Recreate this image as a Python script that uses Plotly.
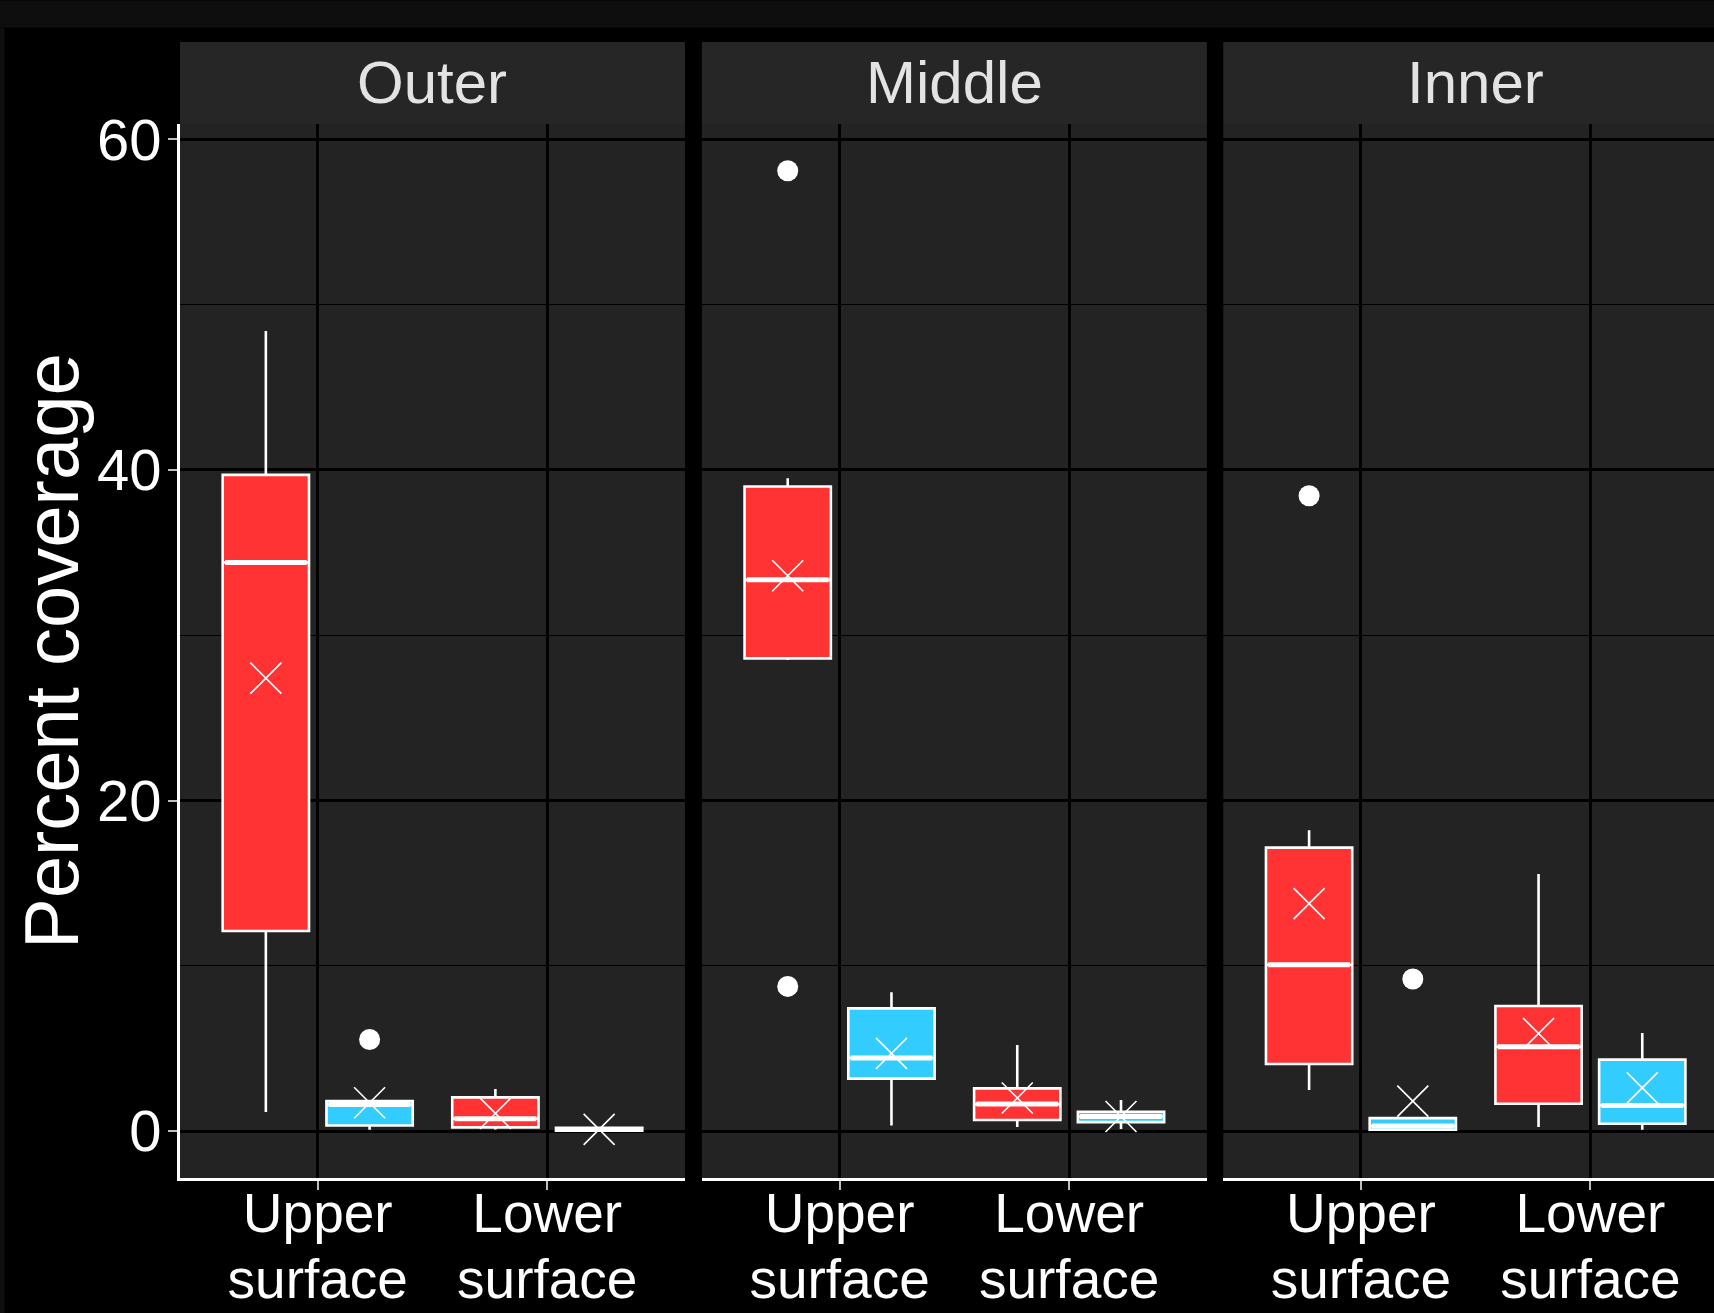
import plotly.graph_objects as go

# ---------------- data ----------------
regions = ["Outer", "Middle", "Inner"]
surface_line1 = ["Upper", "Lower"]
surface_line2 = ["surface", "surface"]
series_names = ["Series A", "Series B"]
series_colors = ["#ff3333", "#33ccff"]

# stats per series -> per region -> [Upper, Lower]
lowerfence = {
    "Series A": {"Outer": [1.15, 0.10], "Middle": [28.5, 0.25], "Inner": [2.49, 0.24]},
    "Series B": {"Outer": [0.08, 0.00], "Middle": [0.33, 0.13], "Inner": [0.05, 0.08]},
}
q1 = {
    "Series A": {"Outer": [12.1, 0.22], "Middle": [28.6, 0.67], "Inner": [4.06, 1.65]},
    "Series B": {"Outer": [0.34, 0.02], "Middle": [3.17, 0.54], "Inner": [0.08, 0.44]},
}
median = {
    "Series A": {"Outer": [34.4, 0.75], "Middle": [33.35, 1.63], "Inner": [10.06, 5.1]},
    "Series B": {"Outer": [1.6, 0.10], "Middle": [4.42, 0.88], "Inner": [0.30, 1.55]},
}
q3 = {
    "Series A": {"Outer": [39.7, 2.04], "Middle": [39.0, 2.58], "Inner": [17.15, 7.57]},
    "Series B": {"Outer": [1.82, 0.20], "Middle": [7.42, 1.17], "Inner": [0.78, 4.32]},
}
upperfence = {
    "Series A": {"Outer": [48.4, 2.54], "Middle": [39.5, 5.2], "Inner": [18.2, 15.56]},
    "Series B": {"Outer": [1.82, 0.20], "Middle": [8.4, 1.88], "Inner": [0.78, 5.94]},
}
means = {
    "Series A": {"Outer": [27.4, 1.07], "Middle": [33.6, 2.0], "Inner": [13.76, 5.9]},
    "Series B": {"Outer": [1.71, 0.10], "Middle": [4.7, 0.88], "Inner": [1.81, 2.61]},
}
# outliers: list of (surface index, value)
outliers = {
    "Series A": {"Outer": [], "Middle": [(0, 58.1), (0, 8.75)], "Inner": [(0, 38.44)]},
    "Series B": {"Outer": [(0, 5.54)], "Middle": [], "Inner": [(0, 9.2)]},
}
y_ticks = [0, 20, 40, 60]
y_minor = [10, 30, 50]

# ---------------- layout params ----------------
W, H = 1714, 1313
ML, MR, MT, MB = 180, 0, 123.5, 135
PW = W - ML - MR
PH = H - MT - MB
domains = [[0, 0.3292], [0.3402, 0.6694], [0.6801, 1.0]]
x_ranges = [[-0.6, 1.6], [-0.6, 1.6], [-0.6, 1.5386]]
y_range = [-2.84, 60.93]
dodge = 0.226
box_w = 0.376
FONT = "Liberation Sans, Arial, sans-serif"
XFS = 55
cat_pos = list(range(len(surface_line1)))

fig = go.Figure()

for pi, reg in enumerate(regions):
    xa = "x" if pi == 0 else f"x{pi+1}"
    ya = "y" if pi == 0 else f"y{pi+1}"
    for si, s in enumerate(series_names):
        off = -dodge if si == 0 else dodge
        xs = [k + off for k in cat_pos]
        fig.add_trace(go.Box(
            x=xs,
            q1=q1[s][reg], median=median[s][reg], q3=q3[s][reg],
            lowerfence=lowerfence[s][reg], upperfence=upperfence[s][reg],
            width=box_w, whiskerwidth=0,
            fillcolor=series_colors[si],
            line=dict(color="white", width=2.6),
            boxpoints=False, name=s, showlegend=False,
            xaxis=xa, yaxis=ya,
        ))
        # thick median lines
        mx, my = [], []
        for k, m in enumerate(median[s][reg]):
            mx += [xs[k] - box_w / 2 + 0.01, xs[k] + box_w / 2 - 0.01, None]
            my += [m, m, None]
        fig.add_trace(go.Scatter(
            x=mx, y=my, mode="lines", line=dict(color="white", width=5),
            showlegend=False, hoverinfo="skip", xaxis=xa, yaxis=ya,
        ))
        # outliers
        if outliers[s][reg]:
            fig.add_trace(go.Scatter(
                x=[xs[k] for k, v in outliers[s][reg]],
                y=[v for k, v in outliers[s][reg]],
                mode="markers",
                marker=dict(color="white", size=21, line=dict(width=0)),
                showlegend=False, xaxis=xa, yaxis=ya,
            ))
        # means
        fig.add_trace(go.Scatter(
            x=xs, y=means[s][reg], mode="markers",
            marker=dict(symbol="x-thin-open", size=31,
                        line=dict(color="white", width=1.6), color="white"),
            showlegend=False, xaxis=xa, yaxis=ya,
        ))
    # empty trace so the second-line label axis is drawn
    fig.add_trace(go.Scatter(x=[], y=[], xaxis=f"x{pi+4}", yaxis=ya,
                             showlegend=False, hoverinfo="skip"))

layout = dict(
    width=W, height=H,
    margin=dict(l=ML, r=MR, t=MT, b=MB, pad=0),
    paper_bgcolor="black",
    plot_bgcolor="#232323",
    font=dict(family=FONT, color="white"),
    showlegend=False,
)

for pi in range(3):
    xk = "xaxis" if pi == 0 else f"xaxis{pi+1}"
    yk = "yaxis" if pi == 0 else f"yaxis{pi+1}"
    yref = "y" if pi == 0 else f"y{pi+1}"
    xref = "x" if pi == 0 else f"x{pi+1}"
    layout[xk] = dict(
        domain=domains[pi], range=x_ranges[pi], automargin=False,
        anchor=yref,
        tickmode="array", tickvals=cat_pos, ticktext=surface_line1,
        showgrid=True, gridcolor="black", gridwidth=2.5,
        zeroline=False,
        ticks="outside", ticklen=9, tickwidth=2, tickcolor="#bdbdbd",
        ticklabelstandoff=-24,
        showline=True, linecolor="white", linewidth=3,
        tickfont=dict(size=XFS, color="white", family=FONT),
    )
    # second line of the category labels
    layout[f"xaxis{pi+4}"] = dict(
        overlaying=xref, anchor=yref, side="bottom",
        range=x_ranges[pi], automargin=False,
        tickmode="array", tickvals=cat_pos, ticktext=surface_line2,
        showgrid=False, zeroline=False, showline=False,
        ticks="", ticklabelstandoff=64,
        tickfont=dict(size=XFS, color="white", family=FONT),
    )
    layout[yk] = dict(
        domain=[0, 1], range=y_range, automargin=False,
        anchor=xref,
        tickmode="array", tickvals=y_ticks,
        showticklabels=(pi == 0),
        ticks="outside" if pi == 0 else "", ticklen=9, tickwidth=2, tickcolor="#bdbdbd",
        ticklabelstandoff=-5,
        showgrid=True, gridcolor="black", gridwidth=2.5,
        minor=dict(tickmode="array", tickvals=y_minor, showgrid=True,
                   gridcolor="black", gridwidth=1.2, ticks=""),
        zeroline=False,
        showline=(pi == 0), linecolor="white", linewidth=3,
        tickfont=dict(size=58, color="white", family=FONT),
    )

def px_to_py(p):
    return (H - MB - p) / PH

def px_to_px(p):
    return (p - ML) / PW

shapes = []
annotations = []
# top dark band and left dark edge
shapes.append(dict(type="rect", xref="paper", yref="paper", layer="below",
                   x0=px_to_px(0), x1=1.0, y0=px_to_py(27), y1=px_to_py(0),
                   fillcolor="#0e0e0e", line=dict(width=0)))
shapes.append(dict(type="rect", xref="paper", yref="paper", layer="below",
                   x0=px_to_px(0), x1=px_to_px(4.5), y0=px_to_py(H), y1=px_to_py(27),
                   fillcolor="#0e0e0e", line=dict(width=0)))
full_w = (domains[0][1] - domains[0][0])
for pi, reg in enumerate(regions):
    shapes.append(dict(type="rect", xref="paper", yref="paper", layer="below",
                       x0=domains[pi][0], x1=domains[pi][1],
                       y0=1.0, y1=px_to_py(41.5),
                       fillcolor="#262626", line=dict(width=0)))
    annotations.append(dict(xref="paper", yref="paper",
                            x=domains[pi][0] + full_w / 2, y=px_to_py(82),
                            text=reg, showarrow=False, xanchor="center", yanchor="middle",
                            font=dict(size=60, color="#e3e3e3", family=FONT)))

annotations.append(dict(xref="paper", yref="paper", x=px_to_px(51), y=0.5,
                        text="Percent coverage", textangle=-90, showarrow=False,
                        xanchor="center", yanchor="middle",
                        font=dict(size=76, color="white", family=FONT)))
layout["shapes"] = shapes
layout["annotations"] = annotations

fig.update_layout(**layout)
fig.write_html("out.html")
